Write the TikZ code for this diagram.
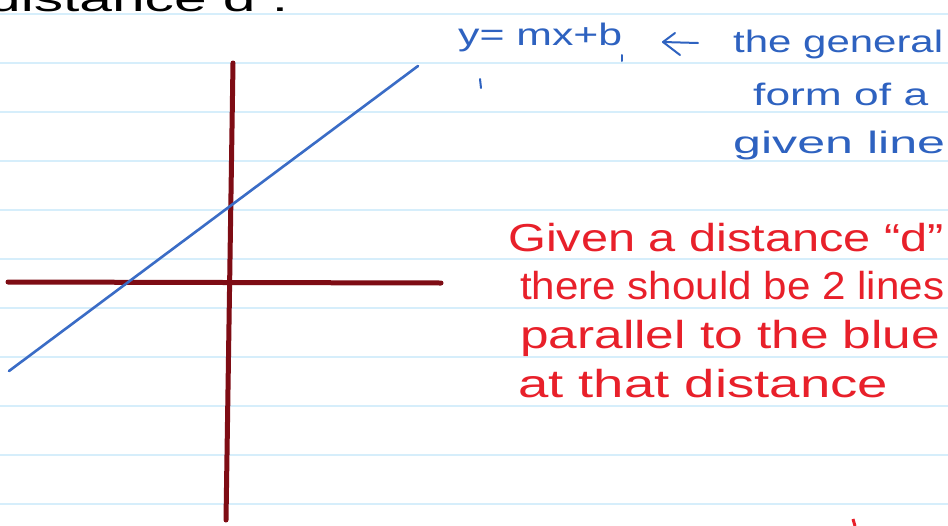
\documentclass[tikz,border=0pt]{standalone}
\usepackage{fontspec}
\setmainfont{Liberation Sans}
\usepackage{graphicx}
\definecolor{rulecol}{HTML}{D6EEFB}
\definecolor{axiscol}{HTML}{7E0C14}
\definecolor{pencolblue}{HTML}{2E62C0}
\definecolor{linecolblue}{HTML}{3A6CC6}
\definecolor{pencolred}{HTML}{E8202A}
\newcommand\hw[2]{\resizebox{#1pt}{\height}{#2}}
\tikzset{
  ruleline/.style={draw=rulecol, line width=1.2pt},
  axisline/.style={draw=axiscol, line width=5pt, line cap=round},
  givenline/.style={draw=linecolblue, line width=2.6pt, line cap=round},
  bluetext/.style={text=pencolblue, inner sep=0pt, anchor=base west, font=\fontsize{31}{33}\selectfont},
  redtext/.style={text=pencolred, inner sep=0pt, anchor=base west, font=\fontsize{39}{41}\selectfont},
  blacktext/.style={text=black, inner sep=0pt, anchor=base west, font=\fontsize{36}{38}\selectfont},
  bluemark/.style={draw=pencolblue, line width=2pt, line cap=round},
}
\begin{document}
\begin{tikzpicture}[x=1pt,y=-1pt]
\path[use as bounding box] (0,0) rectangle (948,525);
\clip (0,0) rectangle (948,525);
\fill[white] (0,0) rectangle (948,525);
% ruled paper
\foreach \k in {0,...,10} \draw[ruleline] (0,14+49*\k) -- (948,14+49*\k);
% heading cut at the top
\node[blacktext] (head) at (-12,11) {\hw{300}{distance d :}};
% axes
\coordinate (vtop) at (233,63);
\coordinate (vbot) at (226,520);
\coordinate (hleft) at (8,282);
\coordinate (hright) at (441,283);
\draw[axisline] (hleft) -- (hright);
\draw[axisline] (vtop) -- (vbot);
% the given line
\coordinate (gstart) at (9,371);
\coordinate (gend) at (418,66);
\draw[givenline] (gstart) -- (gend);
% blue notes
\node[bluetext] (eq) at (458,45) {\hw{164}{y= mx+b}};
\coordinate (tickA1) at (480,79);
\coordinate (tickA2) at (481,88);
\coordinate (tickB1) at (622,55);
\coordinate (tickB2) at (622,61);
\draw[bluemark] (tickA1) -- (tickA2);
\draw[bluemark] (tickB1) -- (tickB2);
\coordinate (arrtip) at (663,42);
\coordinate (arrtail) at (698,43);
\coordinate (arrup) at (675,33);
\coordinate (arrdown) at (680,55);
\draw[bluemark] (arrtail) -- (arrtip);
\draw[bluemark, line join=round] (arrup) -- (arrtip) -- (arrdown);
\node[bluetext] (l1) at (733,52) {\hw{210}{the general}};
\node[bluetext] (l2) at (753,105) {\hw{175}{form of a}};
\node[bluetext] (l3) at (733,153) {\hw{212}{given line}};
% red notes
\node[redtext] (r1) at (508,251) {\hw{436}{Given a distance ``d''}};
\node[redtext] (r2) at (520,299) {\hw{424}{there should be 2 lines}};
\node[redtext] (r3) at (520,348) {\hw{420}{parallel to the blue}};
\node[redtext] (r4) at (518,397) {\hw{370}{at that distance}};
% tiny red mark at the bottom
\coordinate (rm1) at (853,519);
\coordinate (rm2) at (855,526);
\draw[draw=pencolred, line width=3pt] (rm1) -- (rm2);
\end{tikzpicture}
\end{document}
